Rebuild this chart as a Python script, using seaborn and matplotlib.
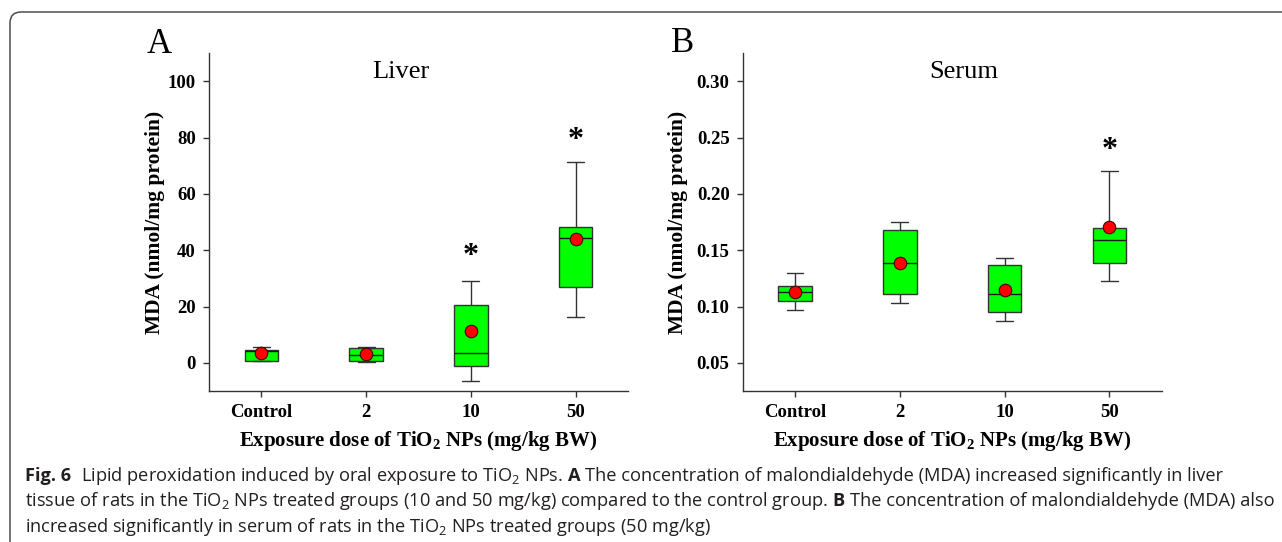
import numpy as np
import pandas as pd
import matplotlib
matplotlib.use("Agg")
import matplotlib.pyplot as plt
import seaborn as sns
from matplotlib.patches import FancyBboxPatch
from matplotlib.transforms import IdentityTransform

# ---------------- data ----------------
groups = ["Control", "2", "10", "50"]

liver_lo = [0.6, 0.2, -6.5, 16.4]
liver_q1 = [0.7, 0.5, -1.0, 26.9]
liver_med = [4.3, 2.9, 3.4, 44.4]
liver_q3 = [4.7, 5.2, 20.4, 48.2]
liver_hi = [5.7, 5.7, 29.2, 71.2]
liver_mean = [3.4, 3.0, 11.4, 43.8]
liver_sig_y = [None, None, 40.2, 81.3]

serum_lo = [0.097, 0.103, 0.087, 0.123]
serum_q1 = [0.105, 0.111, 0.095, 0.139]
serum_med = [0.113, 0.139, 0.111, 0.159]
serum_q3 = [0.118, 0.168, 0.137, 0.170]
serum_hi = [0.130, 0.175, 0.143, 0.220]
serum_mean = [0.113, 0.139, 0.115, 0.171]
serum_sig_y = [None, None, None, 0.245]

liver_ticks = [0, 20, 40, 60, 80, 100]
serum_ticks = [0.05, 0.10, 0.15, 0.20, 0.25, 0.30]

# ---------------- style ----------------
sns.set_theme(style="ticks")
plt.rcParams["font.family"] = ["Liberation Serif", "DejaVu Serif"]
plt.rcParams["axes.facecolor"] = "white"
plt.rcParams["figure.facecolor"] = "white"

W, H = 1282, 542
fig = plt.figure(figsize=(W / 100, H / 100), dpi=100)

SERIF = ["Liberation Serif", "DejaVu Serif"]
EDGE = "#333333"


def five_num_frame(lo, q1, med, q3, hi):
    rows = []
    for g, a, b, c, d, e in zip(groups, lo, q1, med, q3, hi):
        for v in (a, b, c, d, e):
            rows.append((g, v))
    return pd.DataFrame(rows, columns=["dose", "value"])


def panel(rect, lo, q1, med, q3, hi, means, sig_y, ylim, yticks, yfmt,
          title, title_x, letter, letter_px, ylabel_x):
    ax = fig.add_axes(rect)
    df = five_num_frame(lo, q1, med, q3, hi)
    sns.boxplot(data=df, x="dose", y="value", order=groups, whis=(0, 100),
                width=0.32, color="#00ff00", saturation=1, linecolor=EDGE,
                linewidth=1.0, fliersize=0, ax=ax,
                medianprops=dict(color="#1a1a1a", linewidth=1.0))
    sns.stripplot(x=groups, y=means, order=groups, jitter=False,
                  color="#ff0000", size=9, edgecolor="#4a0000", linewidth=0.8,
                  ax=ax, zorder=5)
    ax.set_xlim(-0.5, 3.5)
    ax.set_ylim(*ylim)
    ax.set_yticks(yticks)
    ax.set_yticklabels([yfmt.format(t) for t in yticks])
    sns.despine(ax=ax)
    for s in ("left", "bottom"):
        ax.spines[s].set_color(EDGE)
        ax.spines[s].set_linewidth(1.0)
    ax.tick_params(direction="out", length=4, width=1.0, color=EDGE, pad=5.5,
                   labelsize=13.5, labelcolor="black")
    for lab in ax.get_xticklabels() + ax.get_yticklabels():
        lab.set_fontweight("bold")
        lab.set_family(SERIF)
    ax.set_xlabel("Exposure dose of TiO$_\\mathregular{2}$ NPs (mg/kg BW)",
                  fontsize=15, fontweight="bold", family=SERIF, color="black")
    ax.set_ylabel("MDA (nmol/mg protein)", fontsize=15.5, fontweight="bold",
                  family=SERIF, color="black")
    ax.xaxis.set_label_coords(0.5, -0.112)
    ax.yaxis.set_label_coords(ylabel_x, 0.5)
    ax.text(title_x, 0.925, title, transform=ax.transAxes, ha="center",
            va="baseline", fontsize=19, family=SERIF, color="black")
    for i, y in enumerate(sig_y):
        if y is None:
            continue
        ax.annotate("*", xy=(i, y), xytext=(0, -10.5),
                    textcoords="offset points", ha="center", va="baseline",
                    fontsize=23, fontweight="bold", family=SERIF,
                    color="black")
    fig.text(letter_px[0] / W, 1 - letter_px[1] / H, letter, ha="center",
             va="baseline", fontsize=25, family=SERIF, color="black")
    return ax


axA = panel([209 / W, 1 - 391 / H, 419 / W, 338 / H],
            liver_lo, liver_q1, liver_med, liver_q3, liver_hi, liver_mean,
            liver_sig_y, (-10, 110), liver_ticks, "{:.0f}",
            "Liver", 0.458, "A", (159.5, 53), -0.105)
axB = panel([742.7 / W, 1 - 391 / H, 419 / W, 338 / H],
            serum_lo, serum_q1, serum_med, serum_q3, serum_hi, serum_mean,
            serum_sig_y, (0.025, 0.325), serum_ticks, "{:.2f}",
            "Serum", 0.528, "B", (682.5, 52.5), -0.13)

# ---------------- frame ----------------
frame = FancyBboxPatch((10, -60), 1500, (H - 12) + 60,
                       boxstyle="round,pad=0,rounding_size=11",
                       transform=IdentityTransform(), facecolor="none",
                       edgecolor="#4d4d4d", linewidth=1.1)
fig.add_artist(frame)

# ---------------- caption ----------------
CAP_FAMILY = ["Liberation Sans Narrow", "Open Sans", "DejaVu Sans"]
caption = [
    [("Fig. 6", "bold", 0),
     ("Lipid peroxidation induced by oral exposure to TiO$_\\mathregular{2}$ NPs.", "normal", 2),
     ("A", "bold", 1),
     ("The concentration of malondialdehyde (MDA) increased significantly in liver", "normal", 1)],
    [("tissue of rats in the TiO$_\\mathregular{2}$ NPs treated groups (10 and 50 mg/kg) compared to the control group.", "normal", 0),
     ("B", "bold", 1),
     ("The concentration of malondialdehyde (MDA) also", "normal", 1)],
    [("increased significantly in serum of rats in the TiO$_\\mathregular{2}$ NPs treated groups (50 mg/kg)", "normal", 0)],
]
baselines = [481, 506.5, 531.5]
x0 = 25
target_w = 1275 - 25  # width of the 2nd line

renderer = fig.canvas.get_renderer()


def measure(s, w, size):
    t = fig.text(0, 0, s, fontsize=size, fontweight=w, family=CAP_FAMILY)
    bb = t.get_window_extent(renderer)
    t.remove()
    return bb.width


def space_w(size):
    return measure("n n", "normal", size) - measure("nn", "normal", size)


def line_width(runs, size):
    sw = space_w(size)
    return sum(measure(s, w, size) + g * sw for s, w, g in runs)


base = 10.0
size = base * target_w / line_width(caption[1], base)
sw = space_w(size)
for runs, yb in zip(caption, baselines):
    x = x0
    for s, w, g in runs:
        x += g * sw
        t = fig.text(x / W, 1 - yb / H, s, fontsize=size, fontweight=w,
                     family=CAP_FAMILY, ha="left", va="baseline",
                     color="#231f20")
        x += t.get_window_extent(renderer).width

fig.savefig("out.png", dpi=100, facecolor="white")
